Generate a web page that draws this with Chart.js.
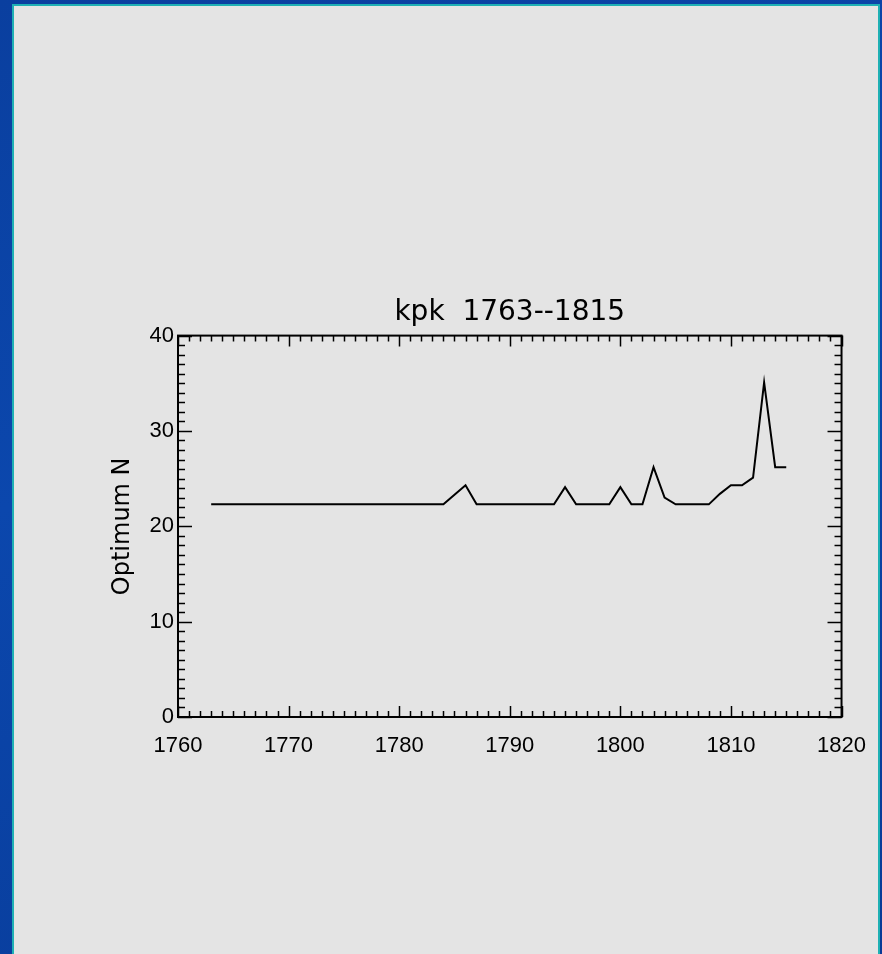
<!DOCTYPE html>
<html>
<head>
<meta charset="utf-8">
<script src="https://cdn.jsdelivr.net/npm/chart.js@4.4.1/dist/chart.umd.min.js"></script>
<style>
    html, body { margin: 0; padding: 0; }
    body {
        width: 882px; height: 954px; overflow: hidden; position: relative;
        background: linear-gradient(160deg, #0a3f9f 0%, #0b47ad 40%, #083a96 100%);
    }
    #panel {
        position: absolute; left: 12px; top: 4px; width: 864px; height: 960px;
        background: #e4e4e4; border: 2px solid #1fb0b4;
    }
    #chart { position: absolute; left: 0; top: 0; }
</style>
</head>
<body>
<div id="panel"></div>
<canvas id="chart" width="882" height="954"></canvas>
<script>
// ========
// Data
// ========
const years = [
    1763, 1764, 1765, 1766, 1767, 1768, 1769, 1770, 1771, 1772,
    1773, 1774, 1775, 1776, 1777, 1778, 1779, 1780, 1781, 1782,
    1783, 1784, 1785, 1786, 1787, 1788, 1789, 1790, 1791, 1792,
    1793, 1794, 1795, 1796, 1797, 1798, 1799, 1800, 1801, 1802,
    1803, 1804, 1805, 1806, 1807, 1808, 1809, 1810, 1811, 1812,
    1813, 1814, 1815
];
const optimumN = [
    22.3, 22.3, 22.3, 22.3, 22.3, 22.3, 22.3, 22.3, 22.3, 22.3,
    22.3, 22.3, 22.3, 22.3, 22.3, 22.3, 22.3, 22.3, 22.3, 22.3,
    22.3, 22.3, 23.3, 24.3, 22.3, 22.3, 22.3, 22.3, 22.3, 22.3,
    22.3, 22.3, 24.1, 22.3, 22.3, 22.3, 22.3, 24.1, 22.3, 22.3,
    26.2, 23.0, 22.3, 22.3, 22.3, 22.3, 23.4, 24.3, 24.3, 25.1,
    35.1, 26.2, 26.2
];
const xTickLabels = [1760, 1770, 1780, 1790, 1800, 1810, 1820];
const yTickLabels = [0, 10, 20, 30, 40];
const xMinorStep = 1;
const yMinorStep = 1;

// ==============================
// Frame + inward ticks, all four sides
// ==============================
const frameTicks = {
    id: "frameTicks",
    afterDraw(chart) {
        const { ctx, chartArea: a, scales: { x, y } } = chart;
        ctx.save();
        ctx.strokeStyle = "#000";
        ctx.lineWidth = 2;
        ctx.strokeRect(a.left, a.top, a.right - a.left, a.bottom - a.top);
        ctx.lineWidth = 1.5;
        ctx.beginPath();
        for (let v = x.min; v <= x.max; v += xMinorStep) {
            const px = Math.round(x.getPixelForValue(v)) + 0.5;
            const len = xTickLabels.includes(v) ? 11 : 6;
            ctx.moveTo(px, a.bottom); ctx.lineTo(px, a.bottom - len);
            ctx.moveTo(px, a.top); ctx.lineTo(px, a.top + len);
        }
        for (let v = y.min; v <= y.max; v += yMinorStep) {
            const py = Math.round(y.getPixelForValue(v)) + 0.5;
            const len = yTickLabels.includes(v) ? 14 : 7;
            ctx.moveTo(a.left, py); ctx.lineTo(a.left + len, py);
            ctx.moveTo(a.right, py); ctx.lineTo(a.right - len, py);
        }
        ctx.stroke();
        ctx.restore();
    }
};

const tickFont = { family: "'Liberation Sans', Arial, sans-serif", size: 22 };

new Chart(document.getElementById("chart"), {
    type: "line",
    data: {
        datasets: [{
            data: years.map((yr, i) => ({ x: yr, y: optimumN[i] })),
            borderColor: "#000",
            borderWidth: 2,
            pointRadius: 0,
            tension: 0,
            fill: false
        }]
    },
    options: {
        responsive: false,
        animation: false,
        layout: { padding: { top: 296, right: 40, bottom: 197, left: 0 } },
        plugins: {
            legend: { display: false },
            tooltip: { enabled: false },
            title: {
                display: true,
                text: "kpk  1763--1815",
                color: "#000",
                fullSize: false,
                font: { family: "'DejaVu Sans', sans-serif", size: 28, weight: "normal", lineHeight: 1.2 },
                padding: { top: 0, bottom: 6 }
            }
        },
        scales: {
            x: {
                type: "linear",
                min: 1760, max: 1820,
                afterBuildTicks: s => { s.ticks = xTickLabels.map(v => ({ value: v })); },
                afterFit: s => { s.height = 40; },
                grid: { display: false, drawTicks: false },
                border: { display: false },
                ticks: {
                    color: "#000", font: tickFont, padding: 16,
                    maxRotation: 0, autoSkip: false,
                    callback: v => String(v)
                }
            },
            y: {
                type: "linear",
                min: 0, max: 40,
                afterBuildTicks: s => { s.ticks = yTickLabels.map(v => ({ value: v })); },
                afterFit: s => { s.width = 178; },
                grid: { display: false, drawTicks: false },
                border: { display: false },
                ticks: { color: "#000", font: tickFont, padding: 4, callback: v => String(v) },
                title: {
                    display: true,
                    text: "Optimum N",
                    color: "#000",
                    font: { family: "'DejaVu Sans', sans-serif", size: 24, lineHeight: 1.2 },
                    padding: { top: 108, bottom: 0 }
                }
            }
        }
    },
    plugins: [frameTicks]
});
</script>
</body>
</html>
